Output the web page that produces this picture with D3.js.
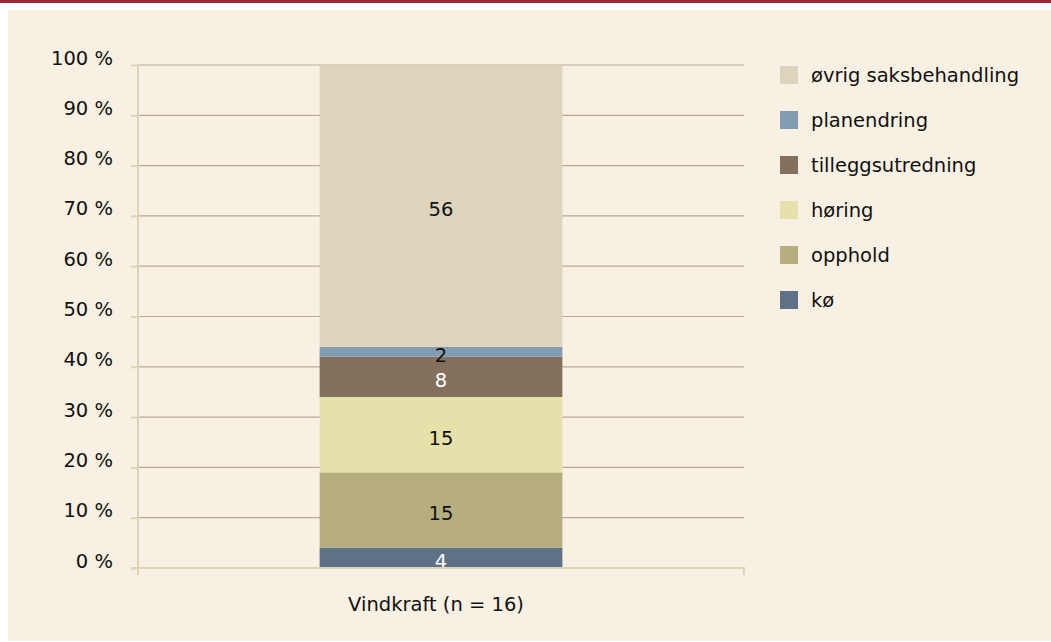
<!DOCTYPE html>
<html><head><meta charset="utf-8">
<script src="https://cdn.jsdelivr.net/npm/d3@7"></script>
<style>
html,body{margin:0;padding:0;background:#fff;}
svg{display:block;}
text{font-family:"DejaVu Sans",sans-serif;fill:#111;}
</style></head>
<body>
<svg id="c" width="1051" height="642"></svg>
<script>
const categories = ["Vindkraft (n = 16)"];
const seriesNames = ["kø", "opphold", "høring", "tilleggsutredning", "planendring", "øvrig saksbehandling"];
const seriesValues = [4, 15, 15, 8, 2, 56];
const seriesColors = ["#5e7186", "#b6ae80", "#e6e0ab", "#85705e", "#829db1", "#dcd4bc"];
const labelColors = ["#ffffff", "#111111", "#111111", "#ffffff", "#111111", "#111111"];
const yTicks = [0, 0.1, 0.2, 0.3, 0.4, 0.5, 0.6, 0.7, 0.8, 0.9, 1.0];

const FONT = "'DejaVu Sans',sans-serif";
const FS = 19.5;

const svg = d3.select("#c");
// frame
svg.append("rect").attr("x", 0).attr("y", 0).attr("width", 1051).attr("height", 3).attr("fill", "#9b2a37");
svg.append("rect").attr("x", 8).attr("y", 10).attr("width", 1043).attr("height", 631).attr("fill", "#f8f0e2");

const x = d3.scaleBand().domain(categories).range([138, 744]).padding(0.428);
const y = d3.scaleLinear().domain([0, 1]).range([568, 65]);

// gridlines
svg.append("g").selectAll("line").data(yTicks.filter(d => d > 0)).join("line")
  .attr("x1", 138).attr("x2", 744)
  .attr("y1", d => y(d)).attr("y2", d => y(d))
  .attr("stroke", "#b9a993").attr("stroke-width", 1.2);

// stacked data
const total = d3.sum(seriesValues);
let acc = 0;
const stack = seriesValues.map((v, i) => {
  const s = {name: seriesNames[i], v, y0: acc / total, y1: (acc + v) / total, color: seriesColors[i], lc: labelColors[i]};
  acc += v;
  return s;
});

const bars = svg.append("g");
categories.forEach(cat => {
  bars.selectAll("rect.b").data(stack).join("rect").attr("class", "b")
    .attr("x", x(cat)).attr("width", x.bandwidth())
    .attr("y", d => y(d.y1)).attr("height", d => y(d.y0) - y(d.y1))
    .attr("fill", d => d.color);
  bars.selectAll("text.l").data(stack).join("text").attr("class", "l")
    .attr("x", x(cat) + x.bandwidth() / 2)
    .attr("y", d => y((d.y0 + d.y1) / 2) + 3)
    .attr("dy", "0.35em")
    .attr("text-anchor", "middle")
    .attr("font-size", FS)
    .style("fill", d => d.lc)
    .text(d => d.v);
});

// y axis
const yAxis = d3.axisLeft(y).tickValues(yTicks).tickSize(7).tickPadding(18)
  .tickFormat(d => Math.round(d * 100) + " %");
const gy = svg.append("g").attr("transform", "translate(138,0)").call(yAxis);
gy.select(".domain").remove();
gy.selectAll(".tick line").attr("stroke", "#ddd3b9").attr("stroke-width", 2);
gy.selectAll(".tick text").attr("font-size", FS).attr("dy", "-0.05em")
  .style("font-family", FONT).style("fill", "#111");
svg.append("line").attr("x1", 138).attr("x2", 138).attr("y1", 65).attr("y2", 575)
  .attr("stroke", "#ddd3b9").attr("stroke-width", 2);

// x axis
const xAxis = d3.axisBottom(x).tickSize(0).tickPadding(29);
const gx = svg.append("g").attr("transform", "translate(-5,568)").call(xAxis);
gx.select(".domain").remove();
gx.selectAll(".tick text").attr("font-size", FS)
  .style("font-family", FONT).style("fill", "#111");
svg.append("line").attr("x1", 131).attr("x2", 745).attr("y1", 568).attr("y2", 568)
  .attr("stroke", "#ddd3b9").attr("stroke-width", 2);
svg.append("line").attr("x1", 744).attr("x2", 744).attr("y1", 568).attr("y2", 575)
  .attr("stroke", "#ddd3b9").attr("stroke-width", 2);

// legend
const legendOrder = stack.slice().reverse();
const lg = svg.append("g").selectAll("g").data(legendOrder).join("g")
  .attr("transform", (d, i) => `translate(780,${66 + i * 45})`);
lg.append("rect").attr("width", 18).attr("height", 18).attr("fill", d => d.color);
lg.append("text").attr("x", 31).attr("y", 9).attr("dy", "0.35em")
  .attr("font-size", FS).text(d => d.name);
</script>
</body></html>
